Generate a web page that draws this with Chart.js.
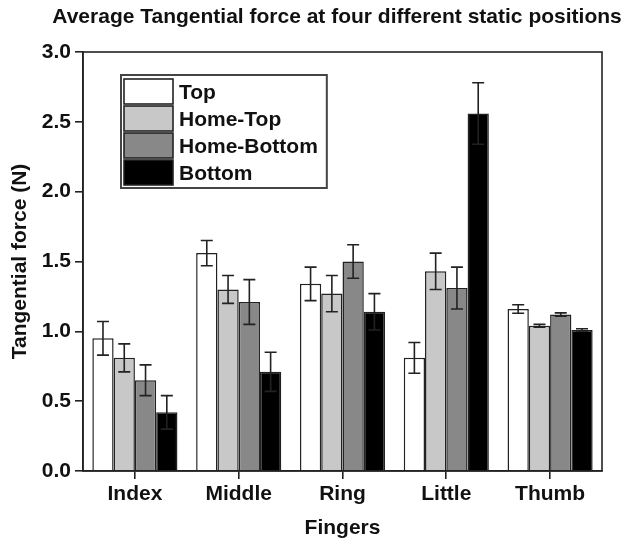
<!DOCTYPE html>
<html>
<head>
<meta charset="utf-8">
<script src="https://cdn.jsdelivr.net/npm/chart.js@4/dist/chart.umd.min.js"></script>
<style>
  html, body { margin: 0; padding: 0; background: #fff; }
  #wrap { width: 635px; height: 543px; }
</style>
</head>
<body>
<div id="wrap"><canvas id="forceChart" width="635" height="543"></canvas></div>
<script>
// dane
const fingers = ["Index", "Middle", "Ring", "Little", "Thumb"];
const seriesNames = ["Top", "Home-Top", "Home-Bottom", "Bottom"];
const seriesColors = ["#ffffff", "#c8c8c8", "#888888", "#000000"];

const topValues = [0.95, 1.56, 1.34, 0.81, 1.16];
const homeTopValues = [0.81, 1.30, 1.27, 1.43, 1.04];
const homeBottomValues = [0.65, 1.21, 1.50, 1.31, 1.12];
const bottomValues = [0.42, 0.71, 1.14, 2.56, 1.01];

const topErr = [0.12, 0.09, 0.12, 0.11, 0.03];
const homeTopErr = [0.10, 0.10, 0.13, 0.13, 0.01];
const homeBottomErr = [0.11, 0.16, 0.12, 0.15, 0.012];
const bottomErr = [0.12, 0.14, 0.13, 0.22, 0.008];

const yTicks = [0.0, 0.5, 1.0, 1.5, 2.0, 2.5, 3.0];
const chartTitle = "Average Tangential force at four different static positions";

const allValues = [topValues, homeTopValues, homeBottomValues, bottomValues];
const allErrors = [topErr, homeTopErr, homeBottomErr, bottomErr];

const FONT = "'Liberation Sans', Arial, sans-serif";

// slupki bledow
const errorBarsPlugin = {
    id: "errorBars",
    afterDatasetsDraw(chart) {
        const ctx = chart.ctx;
        const y = chart.scales.y;
        ctx.save();
        ctx.strokeStyle = "#222";
        ctx.lineWidth = 1.6;
        chart.data.datasets.forEach((ds, di) => {
            const meta = chart.getDatasetMeta(di);
            meta.data.forEach((bar, i) => {
                const v = ds.data[i];
                const e = allErrors[di][i];
                const yHi = y.getPixelForValue(v + e);
                const yLo = y.getPixelForValue(v - e);
                const cap = 6;
                ctx.beginPath();
                ctx.moveTo(bar.x, yHi);
                ctx.lineTo(bar.x, yLo);
                ctx.moveTo(bar.x - cap, yHi);
                ctx.lineTo(bar.x + cap, yHi);
                ctx.moveTo(bar.x - cap, yLo);
                ctx.lineTo(bar.x + cap, yLo);
                ctx.stroke();
            });
        });
        ctx.restore();
    }
};

// tytul, ramka wykresu i legenda w srodku
const frameLegendPlugin = {
    id: "frameLegend",
    afterDraw(chart) {
        const ctx = chart.ctx;
        const a = chart.chartArea;
        ctx.save();
        ctx.fillStyle = "#111";
        ctx.font = "bold 21px " + FONT;
        ctx.textAlign = "center";
        ctx.textBaseline = "middle";
        ctx.fillText(chartTitle, 337, 17);

        ctx.strokeStyle = "#222";
        ctx.lineWidth = 1.6;
        ctx.strokeRect(a.left, a.top, a.right - a.left, a.bottom - a.top);

        ctx.font = "bold 21px " + FONT;
        ctx.textAlign = "left";
        const textW = Math.max(...seriesNames.map(n => ctx.measureText(n).width));
        const lx = 121, ly = 75, lw = 59 + textW + 8, lh = 113;
        ctx.lineWidth = 2;
        ctx.strokeStyle = "#444";
        ctx.strokeRect(lx, ly, lw, lh);

        seriesNames.forEach((name, i) => {
            const sy = ly + 4 + i * 27;
            ctx.fillStyle = seriesColors[i];
            ctx.fillRect(lx + 3, sy, 49, 25);
            ctx.strokeStyle = "#222";
            ctx.lineWidth = 1.6;
            ctx.strokeRect(lx + 3, sy, 49, 25);
            ctx.fillStyle = "#111";
            ctx.fillText(name, lx + 58, sy + 14);
        });
        ctx.restore();
    }
};

const ctx = document.getElementById("forceChart").getContext("2d");

new Chart(ctx, {
    type: "bar",
    data: {
        labels: fingers,
        datasets: seriesNames.map((name, i) => ({
            label: name,
            data: allValues[i],
            backgroundColor: seriesColors[i],
            borderColor: "#222",
            borderWidth: 1.5,
            categoryPercentage: 0.82,
            barPercentage: 1.0
        }))
    },
    options: {
        responsive: false,
        animation: false,
        layout: { padding: { left: 5, right: 33, top: 52, bottom: 2 } },
        plugins: {
            legend: { display: false },
            tooltip: { enabled: false },
            title: { display: false }
        },
        scales: {
            x: {
                afterFit: s => { s.height = 70; },
                grid: { display: true, drawOnChartArea: false, color: "#222", tickLength: 8, offset: false, lineWidth: 1.6 },
                border: { color: "#222", width: 1.6 },
                ticks: {
                    color: "#111",
                    font: { family: FONT, size: 21, weight: "bold" },
                    padding: 3
                },
                title: {
                    display: true,
                    text: "Fingers",
                    color: "#111",
                    font: { family: FONT, size: 21, weight: "bold" },
                    padding: { top: 4, bottom: 0 }
                }
            },
            y: {
                min: 0,
                max: 3,
                afterBuildTicks: s => { s.ticks = yTicks.map(v => ({ value: v })); },
                afterFit: s => { s.width = 78; },
                grid: { display: true, drawOnChartArea: false, color: "#222", tickLength: 8, lineWidth: 1.6 },
                border: { color: "#222", width: 1.6 },
                ticks: {
                    color: "#111",
                    font: { family: FONT, size: 21, weight: "bold" },
                    padding: 4,
                    callback: v => Number(v).toFixed(1)
                },
                title: {
                    display: true,
                    text: "Tangential force (N)",
                    color: "#111",
                    font: { family: FONT, size: 21, weight: "bold" },
                    padding: { top: 3, bottom: 4 }
                }
            }
        }
    },
    plugins: [errorBarsPlugin, frameLegendPlugin]
});
</script>
</body>
</html>
